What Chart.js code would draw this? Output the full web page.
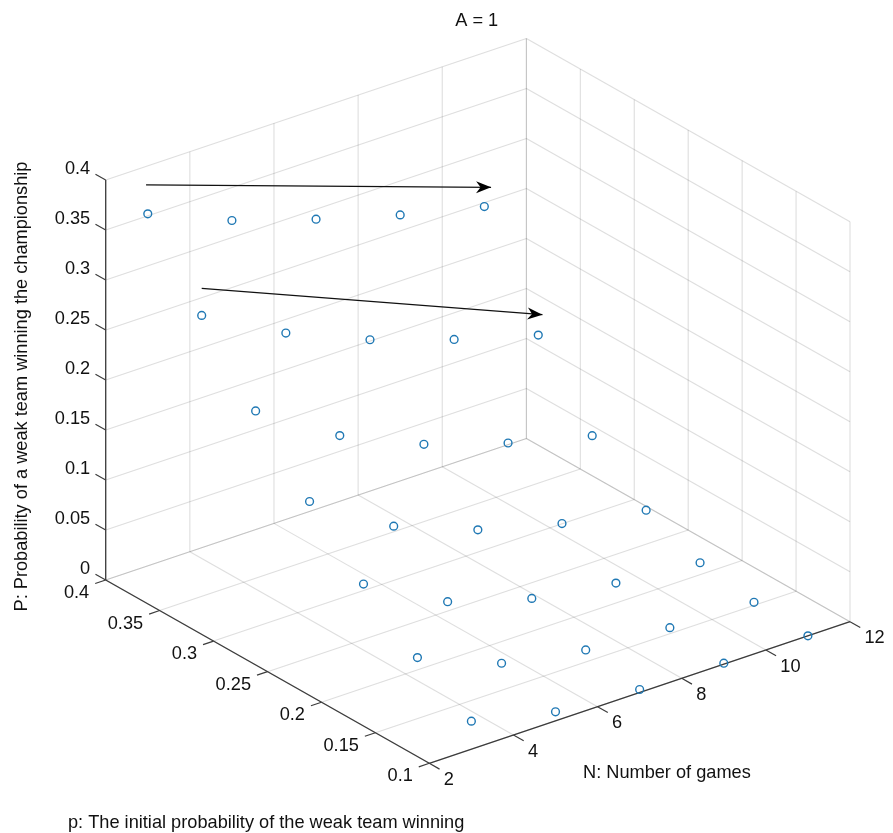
<!DOCTYPE html>
<html>
<head>
<meta charset="utf-8">
<title>A = 1</title>
<style>
  html, body { margin: 0; padding: 0; background: #fff; }
  #chart { display: block; }
</style>
</head>
<body>
<canvas id="chart" width="893" height="833"></canvas>
<script src="https://cdn.jsdelivr.net/npm/chart.js@4"></script>
<script>
// Data
const gameCounts = [3, 5, 7, 9, 11];
const initialProbs = [0.1, 0.15, 0.2, 0.25, 0.3, 0.35, 0.4];
const winAt010 = [0.028, 0.009, 0.003, 0.001, 0.000];
const winAt015 = [0.061, 0.027, 0.012, 0.006, 0.003];
const winAt020 = [0.104, 0.058, 0.033, 0.020, 0.012];
const winAt025 = [0.156, 0.103, 0.071, 0.049, 0.034];
const winAt030 = [0.216, 0.163, 0.126, 0.099, 0.078];
const winAt035 = [0.281, 0.235, 0.200, 0.172, 0.148];
const winAt040 = [0.352, 0.317, 0.290, 0.266, 0.246];
const winRows = [winAt010, winAt015, winAt020, winAt025, winAt030, winAt035, winAt040];

// Tick labels
const nTicks = ['2', '4', '6', '8', '10', '12'];
const pTicks = ['0.1', '0.15', '0.2', '0.25', '0.3', '0.35', '0.4'];
const zTicks = ['0', '0.05', '0.1', '0.15', '0.2', '0.25', '0.3', '0.35', '0.4'];

// Arrows, as [N, p, P] tail and tip
const arrowTails = [[2.96, 0.4, 0.3815], [3.0, 0.35, 0.308]];
const arrowTips = [[11.16, 0.4, 0.263], [11.1, 0.35, 0.167]];

const titleText = 'A = 1';
const nLabel = 'N: Number of games';
const pLabel = 'p: The initial probability of the weak team winning';
const zLabel = 'P: Probability of a weak team winning the championship';

const FONT = '"Liberation Sans", Arial, sans-serif';
const GRID = 'rgba(60,60,60,0.17)';
const AXIS = '#3c3c3c';
const MARKER = '#1f78b4';

// Chart.js has no 3D axes, so each (N, p, P) goes through this fixed view
// projection and lands on two hidden linear scales
function project(n, p, z) {
    return {
        x: 429.3 + (n - 2) / 10 * 420.7 - (p - 0.1) / 0.3 * 323.6,
        y: 763.3 - (n - 2) / 10 * 141.6 - (p - 0.1) / 0.3 * 183.3 - z / 0.4 * 400
    };
}

function segment(a, b, color, width) {
    return {
        type: 'scatter',
        showLine: true,
        data: [project(a[0], a[1], a[2]), project(b[0], b[1], b[2])],
        borderColor: color,
        borderWidth: width,
        pointRadius: 0,
        fill: false,
        order: 3
    };
}

const datasets = [];
const nMin = 2, nMax = 12, pMin = 0.1, pMax = 0.4, zMax = 0.4;

// Grid on the floor and on the two back walls
nTicks.forEach(t => {
    const n = Number(t);
    datasets.push(segment([n, pMin, 0], [n, pMax, 0], GRID, 1.1));
    datasets.push(segment([n, pMax, 0], [n, pMax, zMax], GRID, 1.1));
});
pTicks.forEach(t => {
    const p = Number(t);
    datasets.push(segment([nMin, p, 0], [nMax, p, 0], GRID, 1.1));
    datasets.push(segment([nMax, p, 0], [nMax, p, zMax], GRID, 1.1));
});
zTicks.forEach(t => {
    const z = Number(t);
    datasets.push(segment([nMin, pMax, z], [nMax, pMax, z], GRID, 1.1));
    datasets.push(segment([nMax, pMax, z], [nMax, pMin, z], GRID, 1.1));
});

// Axis lines
datasets.push(segment([nMin, pMin, 0], [nMax, pMin, 0], AXIS, 1.3));
datasets.push(segment([nMin, pMin, 0], [nMin, pMax, 0], AXIS, 1.3));
datasets.push(segment([nMin, pMax, 0], [nMin, pMax, zMax], AXIS, 1.3));

// Tick marks
nTicks.forEach(t => datasets.push(segment([Number(t), pMin, 0], [Number(t), pMin - 0.0095, 0], AXIS, 1.2)));
pTicks.forEach(t => datasets.push(segment([nMin, Number(t), 0], [nMin - 0.25, Number(t), 0], AXIS, 1.2)));
zTicks.forEach(t => datasets.push(segment([nMin, pMax, Number(t)], [nMin, pMax + 0.0095, Number(t)], AXIS, 1.2)));

// Arrow shafts
arrowTails.forEach((tail, i) => {
    const shaft = segment(tail, arrowTips[i], '#111', 1.3);
    shaft.order = 1;
    datasets.push(shaft);
});

// The points
const points = [];
initialProbs.forEach((p, i) => {
    gameCounts.forEach((n, j) => {
        points.push(project(n, p, winRows[i][j]));
    });
});
datasets.push({
    type: 'scatter',
    data: points,
    pointStyle: 'circle',
    pointRadius: 3.9,
    pointBorderWidth: 1.4,
    pointBorderColor: MARKER,
    pointBackgroundColor: 'rgba(0,0,0,0)',
    order: 2
});

// Tick labels, axis labels, title and arrow heads
const textPlugin = {
    id: 'textPlugin',
    afterDatasetsDraw(chart) {
        const ctx = chart.ctx;
        const sx = chart.scales.x, sy = chart.scales.y;
        const put = (text, pos, dx, dy, align) => {
            ctx.textAlign = align;
            ctx.fillText(text, sx.getPixelForValue(pos.x) + dx, sy.getPixelForValue(pos.y) + dy);
        };

        ctx.save();
        ctx.fillStyle = '#111';
        ctx.textBaseline = 'middle';
        ctx.font = '18.2px ' + FONT;
        nTicks.forEach(t => put(t, project(Number(t), pMin, 0), 14.5, 16.7, 'left'));
        pTicks.forEach(t => put(t, project(nMin, Number(t), 0), -16.5, 13, 'right'));
        zTicks.forEach(t => put(t, project(nMin, pMax, Number(t)), -15.5, -11.5, 'right'));

        ctx.textAlign = 'center';
        ctx.fillText(titleText, 476.7, 20.5);

        ctx.textAlign = 'left';
        ctx.fillText(nLabel, 583, 772.7);
        ctx.fillText(pLabel, 68, 822.7);
        ctx.save();
        ctx.translate(21.5, 386.5);
        ctx.rotate(-Math.PI / 2);
        ctx.textAlign = 'center';
        ctx.fillText(zLabel, 0, 0);
        ctx.restore();

        // Stealth heads on the arrows
        ctx.fillStyle = '#000';
        arrowTails.forEach((tail, i) => {
            const a = project(tail[0], tail[1], tail[2]);
            const b = project(arrowTips[i][0], arrowTips[i][1], arrowTips[i][2]);
            const tipX = sx.getPixelForValue(b.x), tipY = sy.getPixelForValue(b.y);
            const ang = Math.atan2(b.y - a.y, b.x - a.x);
            ctx.save();
            ctx.translate(tipX, tipY);
            ctx.rotate(ang);
            ctx.beginPath();
            ctx.moveTo(0, 0);
            ctx.lineTo(-15, -6);
            ctx.lineTo(-10.5, 0);
            ctx.lineTo(-15, 6);
            ctx.closePath();
            ctx.fill();
            ctx.restore();
        });
        ctx.restore();
    }
};

new Chart(document.getElementById('chart'), {
    type: 'scatter',
    data: { datasets: datasets },
    plugins: [textPlugin],
    options: {
        responsive: false,
        animation: false,
        layout: { padding: 0, autoPadding: false },
        scales: {
            x: { type: 'linear', min: 0, max: 893, display: false },
            y: { type: 'linear', min: 0, max: 833, reverse: true, display: false }
        },
        plugins: {
            legend: { display: false },
            tooltip: { enabled: false }
        }
    }
});
</script>
</body>
</html>
